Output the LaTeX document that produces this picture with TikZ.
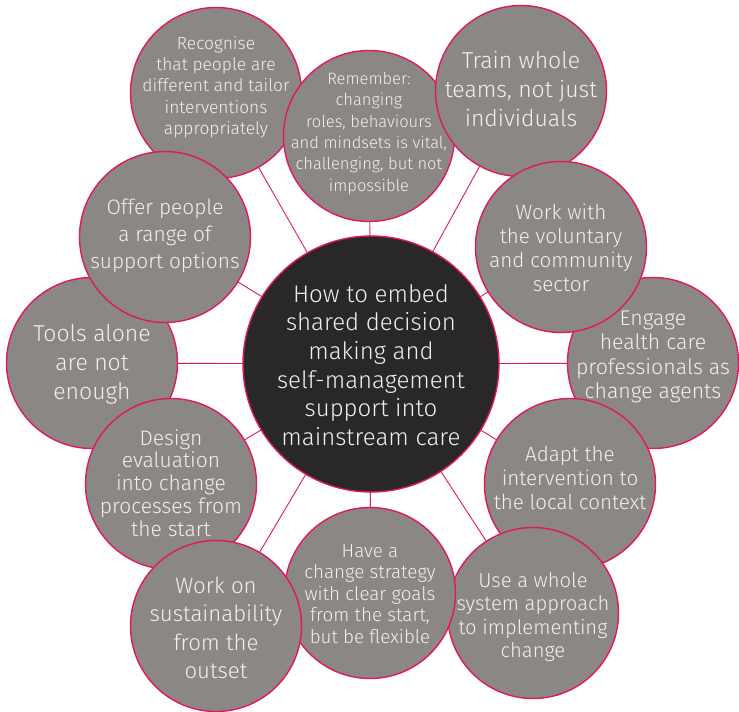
\documentclass[tikz,border=0pt]{standalone}
\usepackage{fontspec}
\IfFontExistsTF{Fira Sans Light}{\setmainfont{Fira Sans Light}}{\setmainfont{Fira Sans}}
\usetikzlibrary{calc}
\definecolor{bubfill}{HTML}{8B8785}
\definecolor{hubfill}{HTML}{2A2826}
\definecolor{rim}{HTML}{E0195A}
\definecolor{txtcol}{HTML}{F2F0EF}
\begin{document}
\begin{tikzpicture}[x=1pt,y=-1pt,
  bub/.style={circle,draw=rim,line width=1.4pt,fill=bubfill,inner sep=0pt,minimum size=171pt},
  hub/.style={circle,draw=rim,line width=1.4pt,fill=hubfill,inner sep=0pt,minimum size=256pt},
  spoke/.style={draw=rim,line width=0.9pt},
  tsmall/.style={text=txtcol,align=center,inner sep=0pt,font=\fontsize{17.4}{21.3}\selectfont},
  tmid/.style={text=txtcol,align=center,inner sep=0pt,font=\fontsize{20.6}{24}\selectfont},
  tbig/.style={text=txtcol,align=center,inner sep=0pt,font=\fontsize{23}{29}\selectfont},
  thub/.style={text=txtcol,align=center,inner sep=0pt,font=\fontsize{24}{28.6}\selectfont}]
\useasboundingbox (0,0) rectangle (739,712);
% centres
\coordinate (c0) at (371,364);
\coordinate (c1) at (216,93);
\coordinate (c2) at (369,136);
\coordinate (c3) at (521,91);
\coordinate (c4) at (653,363);
\coordinate (c5) at (561,247);
\coordinate (c6) at (570,484);
\coordinate (c7) at (533,613);
\coordinate (c8) at (370,593);
\coordinate (c9) at (92,363);
\coordinate (c10) at (171,484);
\coordinate (c11) at (216,626);
\coordinate (c12) at (165,237);
% spokes
\foreach \i in {1,...,12} \draw[spoke] (c0) -- (c\i);
% bubbles
\node[bub] (recog) at (c1) {};
\node[bub] (remem) at (c2) {};
\node[bub] (train) at (c3) {};
\node[bub] (engage) at (c4) {};
\node[bub] (volun) at (c5) {};
\node[bub] (adapt) at (c6) {};
\node[bub] (whole) at (c7) {};
\node[bub] (have) at (c8) {};
\node[bub] (tools) at (c9) {};
\node[bub] (design) at (c10) {};
\node[bub] (sust) at (c11) {};
\node[bub] (offer) at (c12) {};
\node[hub] (hub) at (c0) {};
% texts
\node[tsmall] (trecog) at ($(recog)+(0,-6)$) {Recognise\\that people are\\different and tailor\\interventions\\appropriately};
\node[tsmall,font=\fontsize{16.5}{21.3}\selectfont] (tremem) at ($(remem)+(0,-2.5)$) {Remember:\\changing\\roles, behaviours\\and mindsets is vital,\\challenging, but not\\impossible};
\node[tbig] (ttrain) at ($(train)+(0,-2)$) {Train whole\\teams, not just\\individuals};
\node[tmid,font=\fontsize{21.3}{24.3}\selectfont] (tengage) at ($(engage)+(0,-6)$) {Engage\\health care\\professionals as\\change agents};
\node[tmid] (tvolun) at ($(volun)+(0,1)$) {Work with\\the voluntary\\and community\\sector};
\node[tmid] (tadapt) at ($(adapt)+(0,-6)$) {Adapt the\\intervention to\\the local context};
\node[tmid,font=\fontsize{20.2}{23.5}\selectfont] (twhole) at ($(whole)+(0,4)$) {Use a whole\\system approach\\to implementing\\change};
\node[tsmall,font=\fontsize{18.8}{21.4}\selectfont] (thave) at ($(have)+(0,1)$) {Have a\\change strategy\\with clear goals\\from the start,\\but be flexible};
\node[tbig] (ttools) at ($(tools)+(0,1)$) {Tools alone\\are not\\enough};
\node[tmid,font=\fontsize{21}{22.8}\selectfont] (tdesign) at ($(design)+(0,-1)$) {Design\\evaluation\\into change\\processes from\\the start};
\node[tbig,font=\fontsize{22.2}{28.5}\selectfont] (tsust) at ($(sust)+(0,2)$) {Work on\\sustainability\\from the\\outset};
\node[tmid,font=\fontsize{20.9}{26.7}\selectfont] (toffer) at ($(offer)+(0,-1)$) {Offer people\\a range of\\support options};
\node[thub] (thub) at ($(hub)+(0,1)$) {How to embed\\shared decision\\making and\\self-management\\support into\\mainstream care};
\end{tikzpicture}
\end{document}
